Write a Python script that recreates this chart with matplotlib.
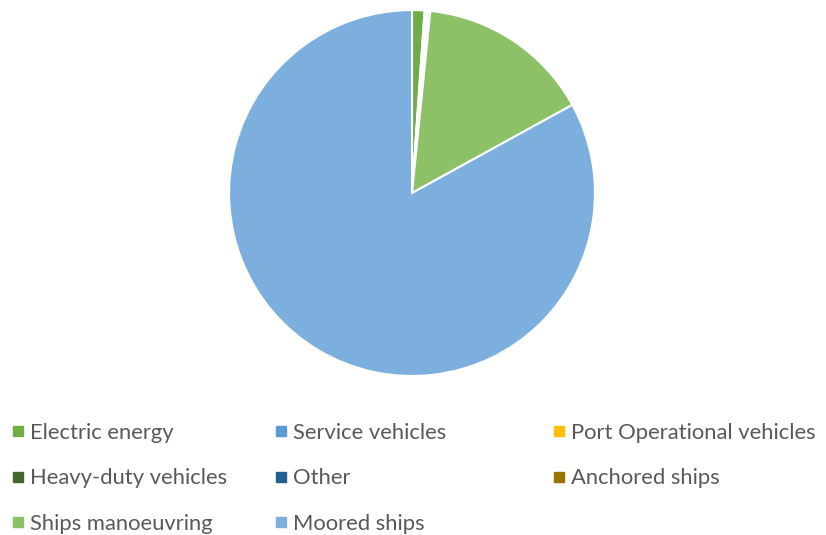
import matplotlib.pyplot as plt
from matplotlib.lines import Line2D

plt.rcParams['font.family'] = ['Lato', 'DejaVu Sans']

labels = ['Electric energy', 'Service vehicles', 'Port Operational vehicles',
          'Heavy-duty vehicles', 'Other', 'Anchored ships',
          'Ships manoeuvring', 'Moored ships']
values = [1.1, 0.1, 0.05, 0.1, 0.05, 0.2, 15.4, 83.0]
colors = ['#70AD47', '#5B9BD5', '#FFC000', '#43682B', '#255E91', '#997300',
          '#8CC168', '#7CAFDD']

fig = plt.figure(figsize=(8.26, 5.35), dpi=100)
ax = fig.add_axes([0.2773, 0.2972, 0.443, 0.684])
ax.pie(values, colors=colors, startangle=90, counterclock=False,
       wedgeprops=dict(edgecolor='white', linewidth=1.5))
ax.set_xlim(-1, 1)
ax.set_ylim(-1, 1)

# legend laid out in three equal columns like the original
cols = [[0, 3, 6], [1, 4, 7], [2, 5]]
xpos = [0.005, 0.323, 0.660]
for c, idx in enumerate(cols):
    handles = [Line2D([], [], marker='s', color=colors[i], linestyle='none',
                      markersize=7) for i in idx]
    fig.legend(handles, [labels[i] for i in idx], loc='upper left',
               bbox_to_anchor=(xpos[c], 0.226), frameon=False,
               fontsize=15.8, labelcolor='#595959', handlelength=0.5,
               handletextpad=0.3, labelspacing=1.16, borderaxespad=0)

fig.savefig('out.png', dpi=100)
